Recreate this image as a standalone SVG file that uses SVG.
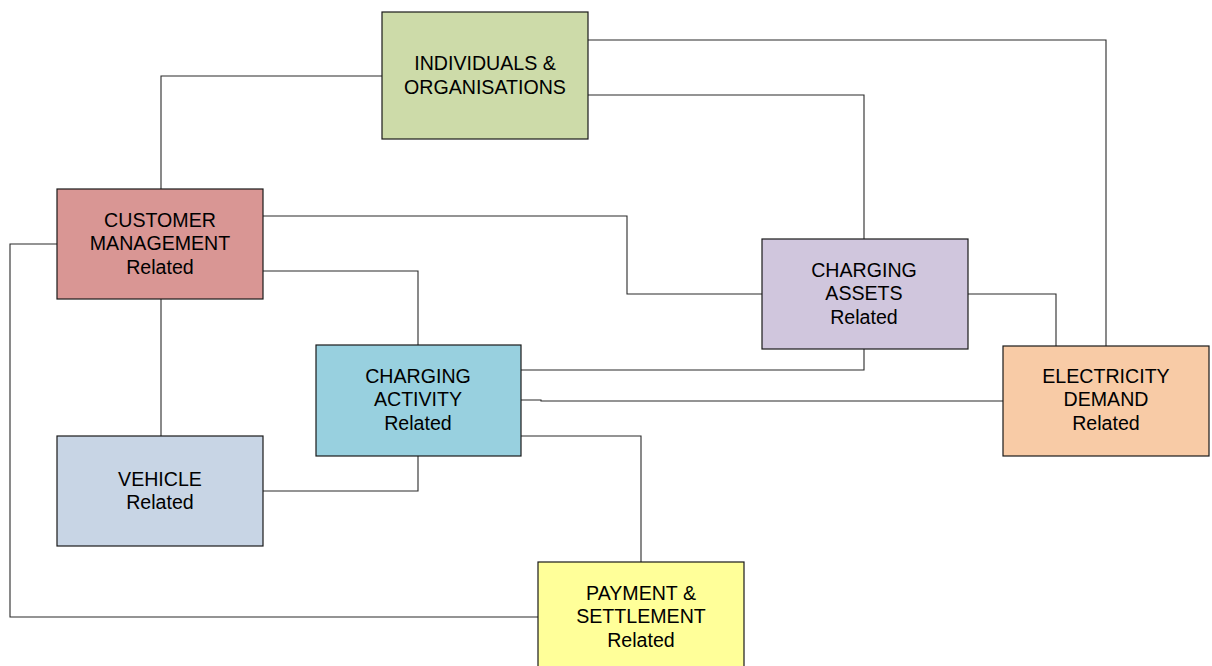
<svg xmlns="http://www.w3.org/2000/svg" width="1212" height="666" viewBox="0 0 1212 666">
<style>
.box{stroke:#1a1a1a;stroke-width:1.2}
.lbl{font-family:"Liberation Sans",Arial,sans-serif;font-size:19.6px;fill:#000;text-anchor:middle}
.conn{fill:none;stroke:#2a2a2a;stroke-width:1.1}
</style>
<rect width="1212" height="666" fill="#fff"/>
<g id="connectors">
<polyline class="conn" points="382,76 161,76 161,189"/>
<polyline class="conn" points="588,40 1106,40 1106,346"/>
<polyline class="conn" points="588,95 864,95 864,239"/>
<polyline class="conn" points="263,216 627,216 627,294 762,294"/>
<polyline class="conn" points="263,271 418,271 418,345"/>
<polyline class="conn" points="161,299 161,436"/>
<polyline class="conn" points="57,244 10,244 10,617 538,617"/>
<polyline class="conn" points="864,349 864,370 521,370"/>
<polyline class="conn" points="521,400 541,400 541,401 1003,401"/>
<polyline class="conn" points="521,436 641,436 641,562"/>
<polyline class="conn" points="968,294 1056,294 1056,346"/>
<polyline class="conn" points="418,456 418,491 263,491"/>
</g>
<g id="individuals">
<rect class="box" x="382" y="12" width="206" height="127" fill="#CDDBA9"/>
<text class="lbl" x="485" y="69.5">INDIVIDUALS &amp;</text>
<text class="lbl" x="485" y="93.5">ORGANISATIONS</text>
</g>
<g id="customer">
<rect class="box" x="57" y="189" width="206" height="110" fill="#D99694"/>
<text class="lbl" x="160" y="226.5">CUSTOMER</text>
<text class="lbl" x="160" y="250">MANAGEMENT</text>
<text class="lbl" x="160" y="273.5">Related</text>
</g>
<g id="charging-assets">
<rect class="box" x="762" y="239" width="206" height="110" fill="#D0C6DD"/>
<text class="lbl" x="864" y="276.5">CHARGING</text>
<text class="lbl" x="864" y="300">ASSETS</text>
<text class="lbl" x="864" y="323.5">Related</text>
</g>
<g id="charging-activity">
<rect class="box" x="316" y="345" width="205" height="111" fill="#98D0DF"/>
<text class="lbl" x="418" y="382.5">CHARGING</text>
<text class="lbl" x="418" y="406">ACTIVITY</text>
<text class="lbl" x="418" y="429.5">Related</text>
</g>
<g id="vehicle">
<rect class="box" x="57" y="436" width="206" height="110" fill="#C8D5E5"/>
<text class="lbl" x="160" y="485.5">VEHICLE</text>
<text class="lbl" x="160" y="509">Related</text>
</g>
<g id="electricity">
<rect class="box" x="1003" y="346" width="206" height="110" fill="#F8CBA6"/>
<text class="lbl" x="1106" y="382.5">ELECTRICITY</text>
<text class="lbl" x="1106" y="406">DEMAND</text>
<text class="lbl" x="1106" y="429.5">Related</text>
</g>
<g id="payment">
<rect class="box" x="538" y="562" width="206" height="110" fill="#FFFF99"/>
<text class="lbl" x="641" y="599.5">PAYMENT &amp;</text>
<text class="lbl" x="641" y="623">SETTLEMENT</text>
<text class="lbl" x="641" y="646.5">Related</text>
</g>
</svg>
